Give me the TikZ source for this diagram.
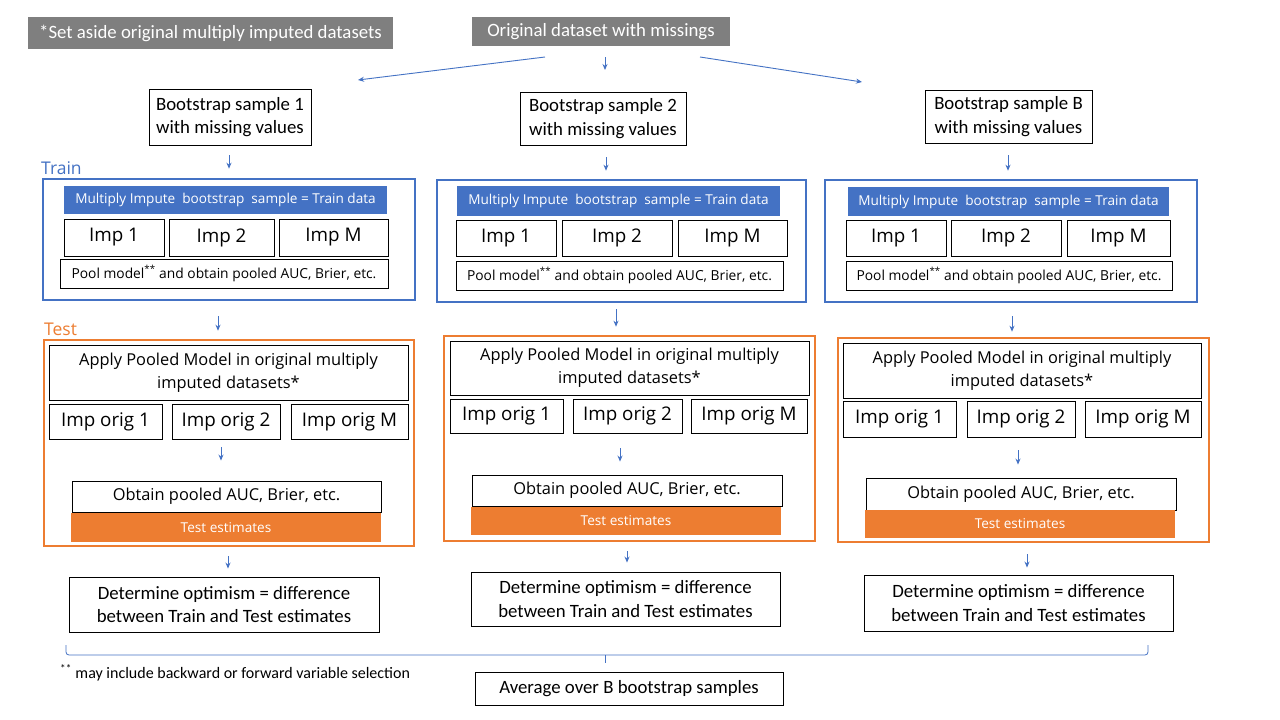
\documentclass[tikz,border=0pt]{standalone}
\usepackage{fontspec}
\setmainfont{Carlito}
\newfontfamily\seg{Open Sans}
\usetikzlibrary{arrows.meta,calc}
\definecolor{cblue}{HTML}{4472C4}
\definecolor{corange}{HTML}{ED7D31}
\definecolor{cgray}{HTML}{7F7F7F}
\tikzset{
  thinbox/.style={draw=black, line width=0.9pt, fill=white, inner sep=0pt, align=center},
  graybox/.style={fill=cgray, draw=none, text=white, inner sep=0pt, font=\fontsize{18.8}{20}\selectfont},
  calbox/.style={thinbox, font=\fontsize{18.8}{23.5}\selectfont},
  segbox/.style={thinbox, font=\seg\fontsize{16.4}{23}\selectfont},
  impbox/.style={thinbox, font=\seg\fontsize{18.8}{20}\selectfont},
  poolbox/.style={thinbox, font=\seg\fontsize{13.8}{15}\selectfont},
  trainframe/.style={draw=cblue, line width=2.6pt, inner sep=0pt},
  testframe/.style={draw=corange, line width=2.6pt, inner sep=0pt},
  bluehead/.style={fill=cblue, draw=none, text=white, inner sep=0pt, font=\seg\fontsize{13.6}{15}\selectfont},
  orangehead/.style={fill=corange, draw=none, text=white, inner sep=0pt, font=\seg\fontsize{13.6}{15}\selectfont},
  arr/.style={draw=cblue, line width=0.9pt, -{Stealth[length=6pt,width=5pt]}},
}
\newcommand\mkbox[7]{\node[#6, minimum width={(#4-#2)*1pt}, minimum height={(#5-#3)*1pt}] (#1) at ({(#2+#4)/2},{(#3+#5)/2}) {#7};}
\newcommand\varr[5]{\path ($(#1.south)+(#3,0)$) coordinate (tmpa);
  \draw[arr, shorten <=#4pt, shorten >=#5pt] (tmpa) -- (tmpa |- #2.north);}
\begin{document}
\begin{tikzpicture}[x=1pt,y=-1pt]
\useasboundingbox (0,0) rectangle (1280,720);
\fill[white] (0,0) rectangle (1280,720);

% top
\mkbox{aside}{28}{17}{393}{49}{graybox}{*Set aside original multiply imputed datasets}
\mkbox{orig}{472}{17}{730}{46}{graybox}{Original dataset with missings}

% bootstrap boxes
\mkbox{bs1}{149}{89}{311}{145}{calbox}{Bootstrap sample 1\\with missing values}
\mkbox{bs2}{520}{92}{686}{145}{calbox}{Bootstrap sample 2\\with missing values}
\mkbox{bs3}{925}{90}{1092}{143}{calbox}{Bootstrap sample B\\with missing values}

\coordinate (l0) at (545,57); \coordinate (l1) at (358,80);
\coordinate (m0) at (605,57); \coordinate (m1) at (605,70);
\coordinate (r0) at (700,57); \coordinate (r1) at (862,82);
\draw[arr] (l0) -- (l1);
\draw[arr] (m0) -- (m1);
\draw[arr] (r0) -- (r1);

% labels
\node[anchor=west, text=cblue, inner sep=0pt, font=\seg\fontsize{17.5}{20}\selectfont] (trainlbl) at (41,168) {Train};
\node[anchor=west, text=corange, inner sep=0pt, font=\seg\fontsize{17.5}{20}\selectfont] (testlbl) at (44,329) {Test};

% ---------- column 1
\mkbox{trn1}{43}{179}{415}{300}{trainframe}{}
\mkbox{hd1}{64}{186}{387}{214}{bluehead}{Multiply Impute\ \ bootstrap\ \ sample = Train data}
\mkbox{i11}{64}{219}{164}{256}{impbox}{Imp 1}
\mkbox{i12}{169}{219}{274}{256}{impbox}{Imp 2}
\mkbox{i13}{279}{219}{388}{256}{impbox}{Imp M}
\mkbox{p1}{60}{259}{388}{288}{poolbox}{Pool model\textsuperscript{**} and obtain pooled AUC, Brier, etc.}
\mkbox{tst1}{44}{340}{414}{546}{testframe}{}
\mkbox{ap1}{49}{345}{408}{400}{segbox}{Apply Pooled Model in original multiply\\imputed datasets*}
\mkbox{o11}{49}{404}{162}{439}{impbox}{Imp orig 1}
\mkbox{o12}{172}{404}{280}{439}{impbox}{Imp orig 2}
\mkbox{o13}{291}{404}{408}{439}{impbox}{Imp orig M}
\mkbox{ob1}{72}{481}{381}{512}{segbox}{Obtain pooled AUC, Brier, etc.}
\mkbox{te1}{71}{513}{381}{542}{orangehead}{Test estimates}
\mkbox{d1}{69}{577}{379}{632}{calbox}{Determine optimism = difference\\between Train and Test estimates}
\varr{bs1}{trn1}{-1}{10}{9}
\varr{trn1}{tst1}{-11}{15}{8}
\varr{o12}{ob1}{-5}{8}{20}
\varr{tst1}{d1}{-1}{9}{8}

% ---------- column 2
\mkbox{trn2}{437}{180}{806}{302}{trainframe}{}
\mkbox{hd2}{457}{186}{780}{216}{bluehead}{Multiply Impute\ \ bootstrap\ \ sample = Train data}
\mkbox{i21}{456}{220}{556}{256}{impbox}{Imp 1}
\mkbox{i22}{562}{220}{672}{256}{impbox}{Imp 2}
\mkbox{i23}{678}{220}{787}{256}{impbox}{Imp M}
\mkbox{p2}{456}{261}{783}{290}{poolbox}{Pool model\textsuperscript{**} and obtain pooled AUC, Brier, etc.}
\mkbox{tst2}{444}{336}{815}{541}{testframe}{}
\mkbox{ap2}{450}{341}{809}{395}{segbox}{Apply Pooled Model in original multiply\\imputed datasets*}
\mkbox{o21}{450}{399}{563}{433}{impbox}{Imp orig 1}
\mkbox{o22}{573}{399}{682}{433}{impbox}{Imp orig 2}
\mkbox{o23}{691}{399}{807}{433}{impbox}{Imp orig M}
\mkbox{ob2}{472}{475}{782}{506}{segbox}{Obtain pooled AUC, Brier, etc.}
\mkbox{te2}{471}{507}{781}{535}{orangehead}{Test estimates}
\mkbox{d2}{471}{572}{780}{626}{calbox}{Determine optimism = difference\\between Train and Test estimates}
\varr{bs2}{trn2}{3}{12}{8}
\varr{trn2}{tst2}{-5.5}{6}{8}
\varr{o22}{ob2}{-7.5}{15}{13}
\varr{tst2}{d2}{-2.5}{9}{9}

% ---------- column 3
\mkbox{trn3}{825}{180}{1197}{302}{trainframe}{}
\mkbox{hd3}{848}{187}{1169}{216}{bluehead}{Multiply Impute\ \ bootstrap\ \ sample = Train data}
\mkbox{i31}{846}{220}{946}{256}{impbox}{Imp 1}
\mkbox{i32}{951}{220}{1061}{256}{impbox}{Imp 2}
\mkbox{i33}{1067}{220}{1170}{256}{impbox}{Imp M}
\mkbox{p3}{846}{261}{1172}{290}{poolbox}{Pool model\textsuperscript{**} and obtain pooled AUC, Brier, etc.}
\mkbox{tst3}{838}{338}{1209}{542}{testframe}{}
\mkbox{ap3}{843}{343}{1201}{398}{segbox}{Apply Pooled Model in original multiply\\imputed datasets*}
\mkbox{o31}{843}{401}{956}{437}{impbox}{Imp orig 1}
\mkbox{o32}{967}{401}{1075}{437}{impbox}{Imp orig 2}
\mkbox{o33}{1085}{401}{1201}{437}{impbox}{Imp orig M}
\mkbox{ob3}{866}{478}{1176}{510}{segbox}{Obtain pooled AUC, Brier, etc.}
\mkbox{te3}{865}{510}{1175}{538}{orangehead}{Test estimates}
\mkbox{d3}{864}{575}{1173}{631}{calbox}{Determine optimism = difference\\between Train and Test estimates}
\varr{bs3}{trn3}{-0.5}{12}{8}
\varr{trn3}{tst3}{1}{13}{5}
\varr{o32}{ob3}{-3}{13}{13}
\varr{tst3}{d3}{3.5}{11}{7}

% brace
\coordinate (bl) at (66,645);
\coordinate (bm) at (605,655);
\coordinate (bt) at (605,663);
\coordinate (br) at (1148,645);
\draw[cblue, line width=0.8pt, rounded corners=3pt] (bl) |- (bm) -| (br);
\draw[cblue, line width=0.8pt] (bm) -- (bt);

% footnote and average
\node[anchor=west, inner sep=0pt, font=\fontsize{16}{18}\selectfont] (foot) at (60,673) {\textsuperscript{**} may include backward or forward variable selection};
\mkbox{avg}{475}{672}{783}{705}{calbox}{Average over B bootstrap samples}
\end{tikzpicture}
\end{document}
